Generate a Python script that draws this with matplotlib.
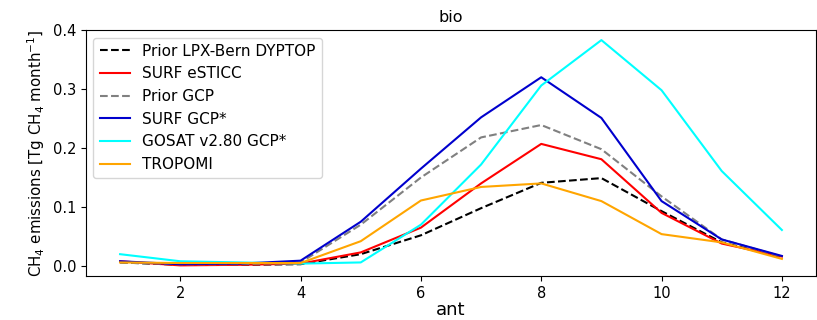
import matplotlib
matplotlib.use("Agg")
import matplotlib.pyplot as plt

months = [1, 2, 3, 4, 5, 6, 7, 8, 9, 10, 11, 12]
prior_lpx = [0.006, 0.002, 0.002, 0.003, 0.020, 0.052, 0.098, 0.141, 0.149, 0.093, 0.040, 0.015]
surf_esticc = [0.008, 0.001, 0.002, 0.004, 0.023, 0.065, 0.140, 0.207, 0.181, 0.090, 0.038, 0.016]
prior_gcp = [0.006, 0.003, 0.003, 0.006, 0.070, 0.150, 0.218, 0.239, 0.198, 0.118, 0.045, 0.016]
surf_gcp = [0.008, 0.003, 0.004, 0.009, 0.075, 0.165, 0.252, 0.320, 0.251, 0.110, 0.045, 0.017]
gosat = [0.020, 0.008, 0.006, 0.004, 0.006, 0.070, 0.172, 0.306, 0.383, 0.298, 0.161, 0.061]
tropomi = [0.006, 0.005, 0.005, 0.005, 0.042, 0.111, 0.134, 0.140, 0.110, 0.054, 0.040, 0.012]

fig = plt.figure(figsize=(8.17, 3.2), dpi=100)
ax = fig.add_axes([0.105, 0.1375, 0.894, 0.7685])
ax.plot(months, prior_lpx, color="black", ls="--", lw=1.5, label="Prior LPX-Bern DYPTOP")
ax.plot(months, surf_esticc, color="red", lw=1.5, label="SURF eSTICC")
ax.plot(months, prior_gcp, color="grey", ls="--", lw=1.5, label="Prior GCP")
ax.plot(months, surf_gcp, color="mediumblue", lw=1.5, label="SURF GCP*")
ax.plot(months, gosat, color="cyan", lw=1.5, label="GOSAT v2.80 GCP*")
ax.plot(months, tropomi, color="orange", lw=1.5, label="TROPOMI")
ax.set_xlim(0.43, 12.57)
ax.set_ylim(-0.017, 0.4)
ax.set_xticks([2, 4, 6, 8, 10, 12])
ax.set_yticks([0.0, 0.1, 0.2, 0.3, 0.4])
ax.tick_params(labelsize=10.5)
ax.set_title("bio", fontsize=11.5)
ax.set_xlabel("ant", fontsize=13, labelpad=0)
ax.set_ylabel(r"CH$_4$ emissions [Tg CH$_4$ month$^{-1}$]", fontsize=10.8)
ax.legend(loc="upper left", fontsize=11)
fig.savefig("out.png", dpi=100)
